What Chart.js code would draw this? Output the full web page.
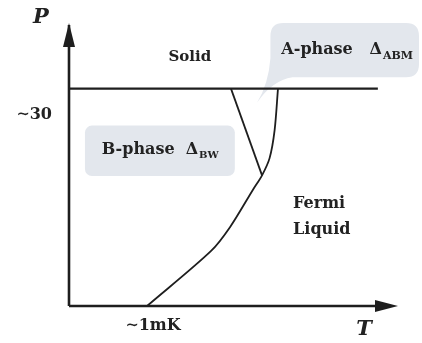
<!DOCTYPE html>
<html>
<head>
<meta charset="utf-8">
<script src="https://cdn.jsdelivr.net/npm/chart.js@4/dist/chart.umd.min.js"></script>
<style>
  html, body { margin: 0; padding: 0; background: #ffffff; }
  #wrap { width: 422px; height: 343px; }
</style>
</head>
<body>
<div id="wrap"><canvas id="c" width="422" height="343"></canvas></div>
<script>
// Superfluid 3He phase diagram: temperature T (mK) vs pressure P (bar)
const tcT = [0.93, 1.69, 1.92, 2.19, 2.30, 2.39, 2.45, 2.49];   // normal–superfluid line
const tcP = [0, 8.6, 12.4, 18.2, 20.5, 23.2, 27.6, 34.1];
const meltT = [0, 3.68];                                        // melting (solid) line
const meltP = [34.1, 34.1];
const abT = [1.93, 2.30];                                       // A–B transition line
const abP = [34.1, 20.5];
const tTicks = [1];
const tTickLabels = ['∼1mK'];
const pTicks = [30];
const pTickLabels = ['∼30'];
const T_MAX = 3.92;
const P_MAX = 44.4;

const ink = '#1e1e1e';
const boxFill = '#e3e7ed';
const serif = '"DejaVu Serif", "Liberation Serif", serif';

const pts = (xs, ys) => xs.map((x, i) => ({ x, y: ys[i] }));

// rounded panel, speech bubble and text labels, placed in data coordinates
const phaseLabels = {
  id: 'phaseLabels',
  beforeDatasetsDraw(chart) {
    const { ctx, scales: { x, y } } = chart;
    const X = v => x.getPixelForValue(v), Y = v => y.getPixelForValue(v);
    ctx.save();
    ctx.fillStyle = boxFill;

    // B-phase panel
    roundRect(ctx, X(0.19), Y(28.3), X(1.976) - X(0.19), Y(20.4) - Y(28.3), 7);
    ctx.fill();

    // A-phase speech bubble, its tail pointing into the A region
    const l = X(2.40), r = X(4.17), t = Y(44.4), b = Y(35.9), rad = 13;
    const tipX = X(2.24), tipY = Y(31.9);
    ctx.beginPath();
    ctx.moveTo(l + rad, t);
    ctx.lineTo(r - rad, t);
    ctx.quadraticCurveTo(r, t, r, t + rad);
    ctx.lineTo(r, b - rad);
    ctx.quadraticCurveTo(r, b, r - rad, b);
    ctx.lineTo(l + 22, b);
    ctx.quadraticCurveTo(l + 2, b + 3, tipX, tipY);
    ctx.quadraticCurveTo(l - 2, b + 7, l, b - 19);
    ctx.lineTo(l, t + rad);
    ctx.quadraticCurveTo(l, t, l + rad, t);
    ctx.closePath();
    ctx.fill();

    ctx.fillStyle = '#222';
    ctx.textBaseline = 'middle';
    ctx.textAlign = 'center';
    ctx.font = `bold 15px ${serif}`;
    ctx.fillText('Solid', X(1.44), Y(39.1));
    ctx.textAlign = 'left';
    ctx.font = `bold 16px ${serif}`;
    ctx.fillText('Fermi', X(2.67), Y(16.0));
    ctx.fillText('Liquid', X(2.67), Y(12.0));

    subLabel(ctx, 'B-phase  Δ', 'BW', X(0.39), Y(24.5), 10);
    subLabel(ctx, 'A-phase   Δ', 'ABM', X(2.53), Y(40.2), 11);

    // axis value labels
    ctx.font = `bold 16px ${serif}`;
    ctx.textAlign = 'center';
    tTicks.forEach((v, i) => ctx.fillText(tTickLabels[i], X(v), Y(0) + 20));
    ctx.textAlign = 'right';
    pTicks.forEach((v, i) => ctx.fillText(pTickLabels[i], X(0) - 17, Y(v)));

    // axis titles
    ctx.font = `italic bold 21px ${serif}`;
    ctx.textAlign = 'center';
    ctx.fillText('P', X(0) - 28, Y(P_MAX) - 5);
    ctx.fillText('T', X(T_MAX) - 34, Y(0) + 24);
    ctx.restore();
  },
  afterDatasetsDraw(chart) {
    const { ctx, scales: { x, y } } = chart;
    const ox = x.getPixelForValue(0), oy = y.getPixelForValue(0);
    const tx = x.getPixelForValue(T_MAX), ty = y.getPixelForValue(P_MAX);
    ctx.save();
    ctx.fillStyle = ink;
    ctx.beginPath();
    ctx.moveTo(ox, ty);
    ctx.lineTo(ox - 6, ty + 24);
    ctx.lineTo(ox + 6, ty + 24);
    ctx.closePath();
    ctx.fill();
    ctx.beginPath();
    ctx.moveTo(tx, oy);
    ctx.lineTo(tx - 23, oy - 6);
    ctx.lineTo(tx - 23, oy + 6);
    ctx.closePath();
    ctx.fill();
    ctx.restore();
  }
};

function roundRect(ctx, x, y, w, h, r) {
  ctx.beginPath();
  ctx.moveTo(x + r, y);
  ctx.arcTo(x + w, y, x + w, y + h, r);
  ctx.arcTo(x + w, y + h, x, y + h, r);
  ctx.arcTo(x, y + h, x, y, r);
  ctx.arcTo(x, y, x + w, y, r);
  ctx.closePath();
}

function subLabel(ctx, main, sub, x, y, subSize) {
  ctx.textAlign = 'left';
  ctx.font = `bold 16px ${serif}`;
  ctx.fillText(main, x, y);
  const w = ctx.measureText(main).width;
  ctx.font = `bold ${subSize}px ${serif}`;
  ctx.fillText(sub, x + w + 1, y + 6);
}

const line = (data, width, extra = {}) => Object.assign({
  data,
  borderColor: ink,
  borderWidth: width,
  pointRadius: 0,
  fill: false,
  showLine: true,
  clip: false
}, extra);

new Chart(document.getElementById('c'), {
  type: 'scatter',
  data: {
    datasets: [
      line([{ x: 0, y: 0 }, { x: T_MAX - 0.2, y: 0 }], 2.6),
      line([{ x: 0, y: 0 }, { x: 0, y: P_MAX - 0.3 }], 2.6),
      line(pts(meltT, meltP), 2.2),
      line(pts(abT, abP), 1.8),
      line(pts(tcT, tcP), 1.8, { tension: 0.3 })
    ]
  },
  options: {
    responsive: false,
    animation: false,
    events: [],
    layout: { padding: { left: 69, right: 24, top: 23, bottom: 37 } },
    scales: {
      x: { type: 'linear', min: 0, max: T_MAX, display: false },
      y: { type: 'linear', min: 0, max: P_MAX, display: false }
    },
    plugins: { legend: { display: false }, tooltip: { enabled: false } }
  },
  plugins: [phaseLabels]
});
</script>
</body>
</html>
